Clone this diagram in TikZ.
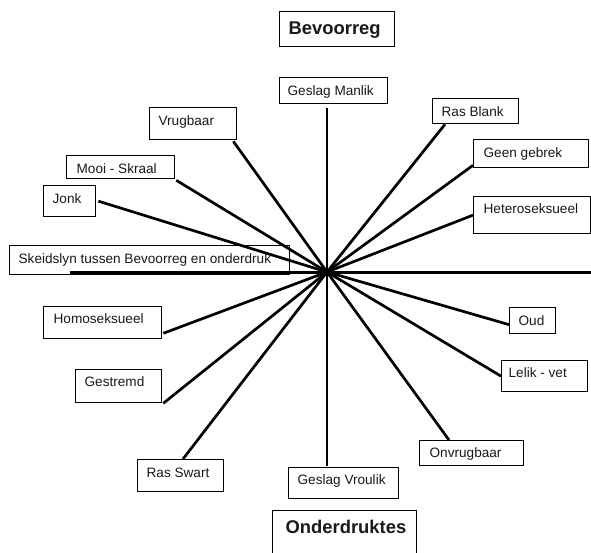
\documentclass[tikz,border=0pt]{standalone}
\usepackage{fontspec}
\setmainfont{Liberation Sans}
\usetikzlibrary{calc}
\newcommand\boxlbl[8]{%
  \pgfmathsetmacro\bxs{#6-#2}%
  \pgfmathsetmacro\btw{#4-#6-(#6-#2)}%
  \pgfmathsetmacro\bth{#7-#3}%
  \pgfmathsetmacro\btd{#5-#7}%
  \node[lbox, inner xsep=\bxs pt, text height=\bth pt, text depth=\btd pt, anchor=north west] (#1) at (#2,#3) {\makebox[\btw pt][l]{#8}};%
}
\newcommand\bigtxt{\bfseries\fontsize{18.4}{21}\selectfont}
\begin{document}
\begin{tikzpicture}[x=1pt,y=-1pt,
  lbox/.style={draw, line width=1.3pt, inner ysep=0pt, font=\fontsize{13.6}{16}\selectfont, text=black!90},
  spoke/.style={line width=2.7pt},
  axisline/.style={line width=2.9pt}]
\fill[white] (0,0) rectangle (591,553);
\useasboundingbox (0,0) rectangle (591,553);
\coordinate (c) at (327,272);
\boxlbl{bev}{279}{11}{394}{46}{288}{34}{\bigtxt Bevoorreg}
\boxlbl{gm}{279}{77}{387}{103}{287}{95}{Geslag Manlik}
\boxlbl{rb}{432}{98}{518}{123}{441}{116}{Ras Blank}
\boxlbl{vrug}{149}{107}{236}{139}{158}{125}{Vrugbaar}
\boxlbl{gg}{473}{139}{588}{167}{483}{157}{Geen gebrek}
\boxlbl{mooi}{66}{155}{174}{178}{76}{173}{Mooi - Skraal}
\boxlbl{jonk}{43}{185}{95}{216}{52}{203}{Jonk}
\boxlbl{het}{473}{196}{590}{233}{483}{213}{Heteroseksueel}
\boxlbl{sk}{9}{245}{289}{274}{18}{263}{Skeidslyn tussen Bevoorreg en onderdruk}
\boxlbl{homo}{43}{306}{161}{338}{53}{323}{Homoseksueel}
\boxlbl{oud}{509}{307}{555}{333}{518}{325}{Oud}
\boxlbl{lv}{501}{360}{587}{391}{508}{377}{Lelik - vet}
\boxlbl{gest}{75}{369}{161}{402}{84}{386}{Gestremd}
\boxlbl{onv}{419}{440}{523}{465}{429}{457}{Onvrugbaar}
\boxlbl{rs}{137}{459}{223}{491}{146}{477}{Ras Swart}
\boxlbl{gv}{288}{467}{398}{498}{297}{484}{Geslag Vroulik}
\boxlbl{ond}{272}{510}{416}{575}{285}{533}{\bigtxt Onderdruktes}
\coordinate (axl) at (70,272.5);
\coordinate (axr) at (592,272.5);
\draw[axisline] (axl) -- (axr);
\draw[spoke] (c) -- ($(c |- gm.south)+(0,4)$);
\draw[spoke] (c) -- ($(vrug.south east)+(-4,1)$);
\draw[spoke] (c) -- ($(mooi.south east)+(1,1)$);
\draw[spoke] (c) -- ($(jonk.east)+(2,0)$);
\draw[spoke] (c) -- (het.west);
\draw[spoke] (c) -- ($(gg.south west)+(0,-3)$);
\draw[spoke] (c) -- ($(rb.south west)+(13,0)$);
\draw[spoke] (c) -- ($(homo.south east)+(1,-6)$);
\draw[spoke] (c) -- ($(gest.south east)+(1,0)$);
\draw[spoke] (c) -- ($(rs.north west)+(46,0)$);
\draw[spoke] (c) -- ($(c |- gv.north)+(0,-1)$);
\draw[spoke] (c) -- ($(onv.north west)+(30,0)$);
\draw[spoke] (c) -- (lv.west);
\draw[spoke] (c) -- ($(oud.west)+(0,4)$);
\end{tikzpicture}
\end{document}
